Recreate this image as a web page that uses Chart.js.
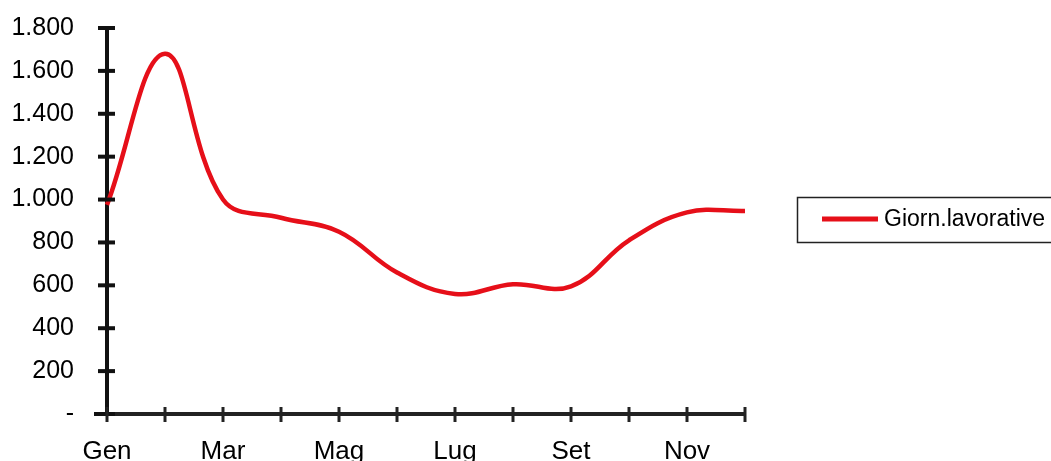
<!DOCTYPE html>
<html>
<head>
<meta charset="utf-8">
<script src="https://cdn.jsdelivr.net/npm/chart.js@4/dist/chart.umd.min.js"></script>
<style>
  body { margin: 0; background: #fff; }
  canvas { display: block; }
</style>
</head>
<body>
<canvas id="giorniChart" width="1051" height="461"></canvas>
<script>
const mesi = ['Gen', 'Feb', 'Mar', 'Apr', 'Mag', 'Giu', 'Lug', 'Ago', 'Set', 'Ott', 'Nov', 'Dic'];
const giornLavorative = [975, 1680, 1000, 915, 850, 660, 560, 605, 595, 810, 940, 947];
const yTicks = [0, 200, 400, 600, 800, 1000, 1200, 1400, 1600, 1800];

// numero all'italiana: 1.800, e "-" per lo zero
function formatIt(v) {
    if (v === 0) return '-';
    return String(v).replace(/\B(?=(\d{3})+(?!\d))/g, '.');
}

// tacche che attraversano gli assi, come nell'originale
const crossTicks = {
    id: 'crossTicks',
    afterDatasetsDraw(chart) {
        const ctx = chart.ctx;
        const x = chart.scales.x;
        const y = chart.scales.y;
        ctx.save();
        ctx.strokeStyle = '#111';
        ctx.lineWidth = 4;
        y.ticks.forEach((t, i) => {
            const py = y.getPixelForTick(i);
            ctx.beginPath();
            ctx.moveTo(x.left - (i === 0 ? 13 : 9), py);
            ctx.lineTo(x.left + 8, py);
            ctx.stroke();
        });
        ctx.strokeStyle = '#222';
        ctx.lineWidth = 3;
        x.ticks.forEach((t, i) => {
            const px = x.getPixelForTick(i);
            ctx.beginPath();
            ctx.moveTo(px, y.bottom - 7);
            ctx.lineTo(px, y.bottom + 8);
            ctx.stroke();
        });
        ctx.restore();
    }
};

// legenda con riquadro, a destra
const boxLegend = {
    id: 'boxLegend',
    afterDraw(chart) {
        const ctx = chart.ctx;
        const ds = chart.data.datasets[0];
        ctx.save();
        ctx.strokeStyle = '#222';
        ctx.lineWidth = 1.5;
        ctx.strokeRect(797.5, 197.5, 270, 45);
        ctx.strokeStyle = ds.borderColor;
        ctx.lineWidth = 5;
        ctx.beginPath();
        ctx.moveTo(822, 219);
        ctx.lineTo(878, 219);
        ctx.stroke();
        ctx.fillStyle = '#000';
        ctx.font = '23px "Liberation Sans", Arial, sans-serif';
        ctx.textBaseline = 'middle';
        ctx.fillText(ds.label, 884, 220);
        ctx.restore();
    }
};

new Chart(document.getElementById('giorniChart').getContext('2d'), {
    type: 'line',
    data: {
        labels: mesi,
        datasets: [{
            label: 'Giorn.lavorative',
            data: giornLavorative,
            borderColor: '#e60f19',
            borderWidth: 4.5,
            pointRadius: 0,
            fill: false,
            tension: 0.4
        }]
    },
    options: {
        responsive: false,
        animation: false,
        layout: { padding: { top: 28, right: 306, left: 0, bottom: 0 } },
        plugins: {
            legend: { display: false },
            tooltip: { enabled: false }
        },
        scales: {
            x: {
                offset: false,
                grid: { display: false, drawTicks: false },
                border: { display: true, color: '#222', width: 4 },
                ticks: {
                    autoSkip: false,
                    maxRotation: 0,
                    padding: 22,
                    color: '#000',
                    font: { family: '"Liberation Sans", Arial, sans-serif', size: 26 },
                    callback: (v, i) => (i % 2 === 0 ? mesi[i] : '')
                },
                afterFit(scale) {
                    scale.height = 47;
                    scale.paddingLeft = 0;
                    scale.paddingRight = 0;
                }
            },
            y: {
                min: 0,
                max: 1800,
                grid: { display: false, drawTicks: false },
                border: { display: true, color: '#111', width: 4 },
                afterBuildTicks(scale) {
                    scale.ticks = yTicks.map(v => ({ value: v }));
                },
                ticks: {
                    padding: 33,
                    color: '#000',
                    font: { family: '"Liberation Sans", Arial, sans-serif', size: 25 },
                    callback: v => formatIt(v)
                },
                afterFit(scale) {
                    scale.width = 107;
                    scale.paddingTop = 0;
                    scale.paddingBottom = 0;
                }
            }
        }
    },
    plugins: [crossTicks, boxLegend]
});
</script>
</body>
</html>
